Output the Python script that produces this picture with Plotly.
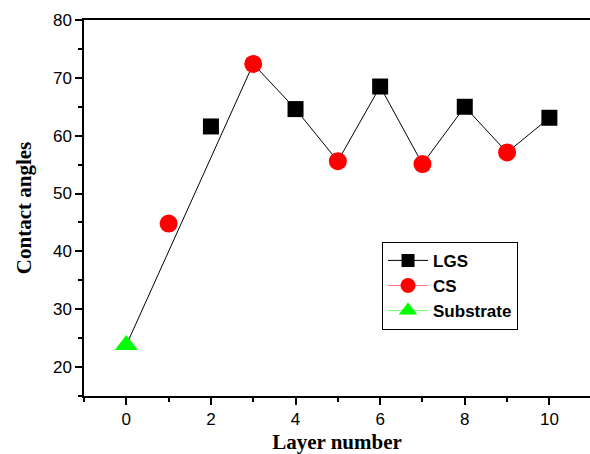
import plotly.graph_objects as go

# Data
lgs_x = [2, 4, 6, 8, 10]
lgs_y = [61.6, 64.6, 68.5, 65.0, 63.1]
cs_x = [1, 3, 5, 7, 9]
cs_y = [44.8, 72.4, 55.6, 55.1, 57.1]
sub_x = [0]
sub_y = [23.8]

# connecting line (in the reference it runs from the substrate straight to layer 3)
pts = sorted(zip(sub_x + lgs_x + cs_x, sub_y + lgs_y + cs_y))
line_pts = [p for p in pts if p[0] == 0 or p[0] >= 3]
line_x = [p[0] for p in line_pts]
line_y = [p[1] for p in line_pts]

fig = go.Figure()
fig.add_trace(go.Scatter(x=line_x, y=line_y, mode="lines",
                         line=dict(color="black", width=1), showlegend=False, hoverinfo="skip"))
fig.add_trace(go.Scatter(x=lgs_x, y=lgs_y, mode="markers", showlegend=False,
                         marker=dict(symbol="square", size=16, color="black")))
fig.add_trace(go.Scatter(x=cs_x, y=cs_y, mode="markers", showlegend=False,
                         marker=dict(symbol="circle", size=18, color="#ff0000")))
fig.add_trace(go.Scatter(x=sub_x, y=sub_y, mode="markers", showlegend=False,
                         marker=dict(symbol="triangle-up", size=20, color="#00ff00")))

# legend entries
fig.add_trace(go.Scatter(x=[None], y=[None], mode="lines+markers", name="LGS",
                         line=dict(color="black", width=1),
                         marker=dict(symbol="square", size=13, color="black")))
fig.add_trace(go.Scatter(x=[None], y=[None], mode="lines+markers", name="CS",
                         line=dict(color="#ff7a7a", width=1),
                         marker=dict(symbol="circle", size=15, color="#ff0000")))
fig.add_trace(go.Scatter(x=[None], y=[None], mode="lines+markers", name="Substrate",
                         line=dict(color="#70ff70", width=1),
                         marker=dict(symbol="triangle-up", size=17, color="#00ff00")))

fig.update_layout(
    width=590, height=454,
    margin=dict(l=84, r=0, t=20, b=58),
    plot_bgcolor="white", paper_bgcolor="white",
    font=dict(family="Liberation Sans, Arial", size=17, color="black"),
    legend=dict(x=0.589, y=0.41, xanchor="left", yanchor="top",
                bordercolor="black", borderwidth=1, bgcolor="white",
                font=dict(family="Liberation Sans, Arial", size=17, color="black", weight="bold"),
                tracegroupgap=0, itemsizing="trace", itemwidth=40),
)
fig.update_xaxes(
    range=[-1, 10.96], tickmode="linear", tick0=0, dtick=2, automargin=False,
    showline=True, linecolor="black", linewidth=1.5, mirror=True,
    ticks="outside", ticklen=7, tickwidth=1.5, tickcolor="black",
    minor=dict(dtick=1, tick0=0, ticks="outside", ticklen=4, tickwidth=1.5, tickcolor="black"),
    showgrid=False, zeroline=False,
    title=dict(text="Layer number", standoff=9,
               font=dict(family="Liberation Serif, Times New Roman", size=21, weight="bold")),
)
fig.update_yaxes(
    range=[15, 80], tickmode="linear", tick0=0, dtick=10, automargin=False,
    showline=True, linecolor="black", linewidth=1.5,
    ticks="outside", ticklen=7, tickwidth=1.5, tickcolor="black",
    minor=dict(dtick=5, tick0=0, ticks="outside", ticklen=4, tickwidth=1.5, tickcolor="black"),
    showgrid=False, zeroline=False,
    title=dict(text="Contact angles", standoff=16,
               font=dict(family="Liberation Serif, Times New Roman", size=21, weight="bold")),
)

# remove the default page margin so the figure fills the 590x454 window exactly
fig.write_html("out.html", config={"displayModeBar": False},
               post_script="document.body.style.margin='0';document.body.style.overflow='hidden';")
